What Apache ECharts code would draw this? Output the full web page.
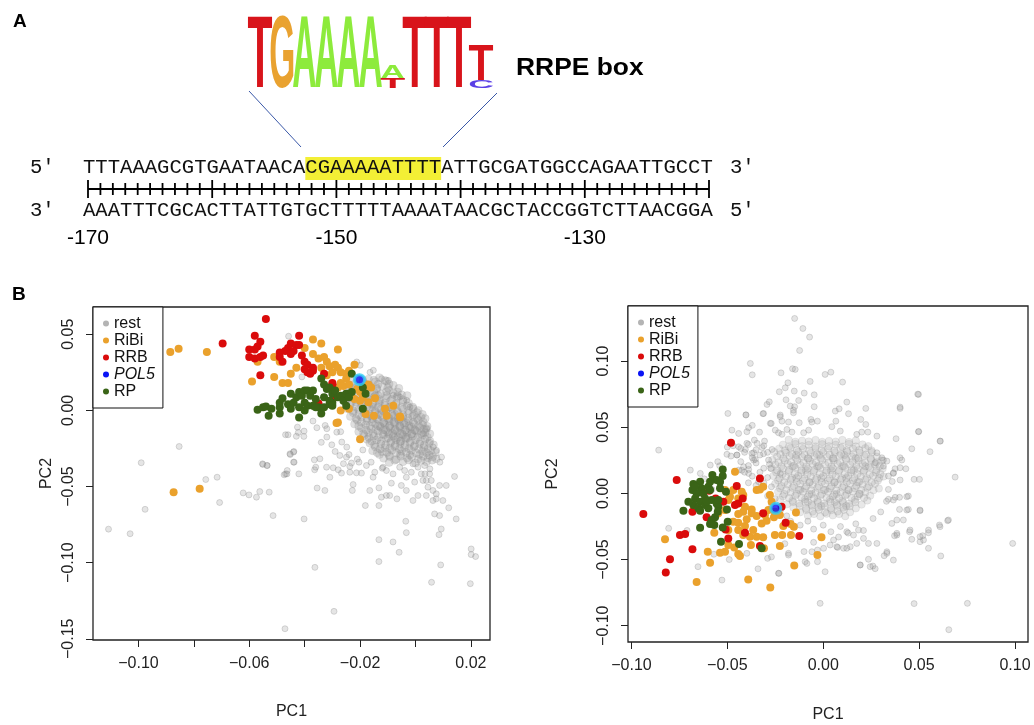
<!DOCTYPE html>
<html>
<head>
<meta charset="utf-8">
<script src="https://cdn.jsdelivr.net/npm/echarts@6/dist/echarts.min.js"></script>
<style>
html, body { margin: 0; padding: 0; background: #fff; }
#main { width: 1034px; height: 725px; }
</style>
</head>
<body>
<div id="main"></div>
<script>
/* panel A : promoter sequence with RRPE box */
const topStrand = 'TTTAAAGCGTGAATAACACGAAAAATTTTATTGCGATGGCCAGAATTGCCT';
const bottomStrand = 'AAATTTCGCACTTATTGTGCTTTTTAAAATAACGCTACCGGTCTTAACGGA';
const boxStart = 18, boxLength = 11;
const rulerStart = -170;
const rulerLabels = [-170, -150, -130];
// logo columns, letters from bottom to top with relative height
const logoColumns = [
    [['T', 1]], [['G', 1]], [['A', 1]], [['A', 1]], [['A', 1]], [['A', 1]],
    [['T', 0.14], ['A', 0.18]],
    [['T', 1]], [['T', 1]], [['T', 1]],
    [['C', 0.11], ['T', 0.49]]
];
const logoColors = {A: '#8DEB3C', C: '#5A3FE6', G: '#E9A230', T: '#D8141B'};

/* panel B : PCA, left and right */
const legendNames = ['rest', 'RiBi', 'RRB', 'POL5', 'RP'];
const xTicksLeft = [-0.10, -0.08, -0.06, -0.04, -0.02, 0.00, 0.02];
const xLabelsLeft = [-0.10, -0.06, -0.02, 0.02];
const yTicksLeft = [0.05, 0.00, -0.05, -0.10, -0.15];
const xTicksRight = [-0.10, -0.05, 0.00, 0.05, 0.10];
const yTicksRight = [0.10, 0.05, 0.00, -0.05, -0.10];

const leftRest = [
    [-0.0853,-0.0237],[-0.099,-0.0344],[-0.0976,-0.065],[-0.1108,-0.078],[-0.103,-0.081],[-0.0757,-0.0454],[-0.0716,-0.0439],
    [-0.0707,-0.0605],[-0.0622,-0.0542],[-0.0601,-0.0555],[-0.0574,-0.057],[-0.0562,-0.0533],[-0.0528,-0.0537],[-0.0514,-0.0691],
    [-0.0551,-0.0355],[-0.0535,-0.0362],[-0.0469,-0.016],[-0.0423,-0.0145],[-0.0403,-0.0171],[-0.0453,-0.0285],[-0.0439,-0.027],
    [-0.0438,-0.034],[-0.0469,-0.0417],[-0.0463,-0.0395],[-0.0421,-0.0417],[-0.0402,-0.0713],[-0.0363,-0.1031],[-0.0294,-0.132],
    [-0.0471,-0.1434],[-0.0365,-0.0325],[-0.0345,-0.0318],[-0.0364,-0.039],[-0.036,-0.0373],[-0.0355,-0.051],[-0.0327,-0.0526],
    [-0.0321,-0.0373],[-0.0297,-0.0377],[-0.0309,-0.0439],[-0.0279,-0.039],[-0.0267,-0.0412],[-0.0273,-0.0296],[-0.0249,-0.0307],
    [-0.0237,-0.0368],[-0.0231,-0.0346],[-0.0204,-0.034],[-0.0213,-0.041],[-0.0237,-0.0406],[-0.0225,-0.0487],[-0.0228,-0.0526],
    [-0.0195,-0.0412],[-0.0177,-0.0362],[-0.0165,-0.0526],[-0.0147,-0.0406],[-0.0153,-0.0439],[-0.0132,-0.0625],[-0.0181,-0.0625],
    [-0.0132,-0.0509],[-0.0123,-0.057],[-0.0105,-0.0559],[-0.0093,-0.0559],[-0.0067,-0.0581],[-0.0087,-0.0478],[-0.0117,-0.0373],
    [-0.0105,-0.0395],[-0.0081,-0.0417],[-0.0057,-0.0373],[-0.0039,-0.0395],[-0.0033,-0.0439],[-0.0015,-0.0406],[-0.0009,-0.0351],
    [0.0009,-0.0373],[0.0021,-0.0417],[0.0033,-0.0362],[0.0039,-0.046],[0.0045,-0.0504],[0.0057,-0.046],[0.0063,-0.0526],
    [0.0075,-0.0548],[0.0075,-0.0581],[0.0063,-0.0592],[0.0099,-0.0592],[0.0087,-0.0493],[0.0111,-0.0493],[0.0141,-0.0434],
    [0.012,-0.064],[0.0147,-0.0713],[0.0069,-0.068],[0.0087,-0.0691],[0.0093,-0.0779],[0.0085,-0.0816],[-0.0035,-0.0728],
    [-0.0033,-0.0803],[-0.0132,-0.0849],[-0.0081,-0.0864],[-0.0059,-0.0932],[-0.0132,-0.0993],[0.0091,-0.1015],[0.0058,-0.1129],
    [0.0198,-0.1138],[0.0201,-0.091],[0.0201,-0.0947],[0.0217,-0.096],[0.0039,-0.0559],[0.0009,-0.0559],[-0.0009,-0.0592],
    [-0.0033,-0.0526],[-0.0051,-0.0493],[0.0027,-0.046],[0.0051,-0.0417],[-0.0003,-0.0471],
    [-0.0426,-0.011],[-0.0402,-0.0136],[-0.0356,-0.0114],[-0.0326,-0.0099],[-0.032,-0.0175],[-0.0284,-0.0143],[-0.0302,-0.0226],
    [-0.0266,-0.0208],[-0.0248,-0.0241],[-0.044,-0.0274],[-0.0452,-0.029],[-0.0552,-0.0351],[-0.0536,-0.0362],[-0.0464,-0.0417],
    [-0.0474,-0.0423],[-0.044,-0.034],[-0.0164,0.025],[-0.0122,0.0208],[-0.0098,0.0197],[-0.008,0.0099],[-0.0056,0.0088],
    [-0.0032,0.0066],[-0.002,0.0022],[-0.020,0.0296],[-0.0152,0.0263],[-0.0212,0.0318],[-0.0458,0.0487],[-0.041,0.022],
    [-0.037,-0.007],[-0.046,-0.016],[-0.043,-0.017],[-0.027,-0.014],[-0.032,-0.012],[0.004,-0.0121],[0.0028,-0.0154],
    [0.0064,-0.0241],[0.0076,-0.0263],[0.0094,-0.0307],[0.0088,-0.034],[0.0052,-0.0384],[0.0034,-0.0417],[-0.034,-0.021],
    [-0.029,-0.027],[-0.024,-0.029],[-0.019,-0.026],[-0.021,-0.032],[-0.016,-0.034],[-0.012,-0.038],[-0.026,-0.035]
];
// dense core of the left cloud
const leftRestCore = [
    [-0.021,0.021],[-0.017,0.0205],[-0.013,0.0215],[-0.023,0.0185],[-0.019,0.019],[-0.0145,0.0188],[-0.0105,0.0192],
    [-0.024,0.016],[-0.0205,0.0155],[-0.0165,0.0162],[-0.012,0.0158],[-0.008,0.0165],[-0.0225,0.0135],[-0.018,0.013],
    [-0.014,0.0138],[-0.0095,0.0132],[-0.025,0.011],[-0.021,0.0105],[-0.0165,0.0112],[-0.0125,0.0108],[-0.008,0.0115],
    [-0.005,0.0102],[-0.0235,0.0085],[-0.019,0.008],[-0.015,0.0088],[-0.0105,0.0082],[-0.0065,0.0087],[-0.0255,0.006],
    [-0.0215,0.0055],[-0.0175,0.0062],[-0.013,0.0058],[-0.009,0.0063],[-0.0045,0.0056],[-0.0235,0.0035],[-0.0195,0.003],
    [-0.0155,0.0038],[-0.011,0.0032],[-0.007,0.0037],[-0.003,0.003],[-0.0245,0.001],[-0.0205,0.0005],[-0.0165,0.0012],
    [-0.0125,0.0008],[-0.0085,0.0013],[-0.0045,0.0006],[-0.0008,0.0011],[-0.0225,-0.0015],[-0.0185,-0.002],[-0.0145,-0.0012],
    [-0.0105,-0.0018],[-0.0065,-0.0013],[-0.0025,-0.002],[0.0005,-0.0014],[-0.0235,-0.004],[-0.0195,-0.0045],[-0.016,-0.0038],
    [-0.012,-0.0043],[-0.008,-0.0037],[-0.0045,-0.0044],[-0.001,-0.0039],[0.002,-0.0045],[-0.021,-0.0065],[-0.0175,-0.007],
    [-0.0135,-0.0062],[-0.0095,-0.0068],[-0.006,-0.0063],[-0.0025,-0.0069],[0.001,-0.0064],[-0.022,-0.009],[-0.018,-0.0095],
    [-0.0145,-0.0087],[-0.011,-0.0093],[-0.0075,-0.0088],[-0.004,-0.0094],[-0.0005,-0.0089],[0.0025,-0.0095],[-0.0195,-0.0115],
    [-0.016,-0.012],[-0.0125,-0.0112],[-0.009,-0.0118],[-0.0055,-0.0113],[-0.002,-0.0119],[0.0015,-0.0114],[0.004,-0.012],
    [-0.0205,-0.014],[-0.017,-0.0145],[-0.0135,-0.0137],[-0.01,-0.0143],[-0.0065,-0.0138],[-0.003,-0.0144],[0.0005,-0.0139],
    [0.0035,-0.0145],[-0.0185,-0.0165],[-0.015,-0.017],[-0.0115,-0.0162],[-0.008,-0.0168],[-0.0045,-0.0163],[-0.001,-0.0169],
    [0.0025,-0.0164],[-0.0175,-0.019],[-0.014,-0.0195],[-0.0105,-0.0187],[-0.007,-0.0193],[-0.0035,-0.0188],[0.0,-0.0194],
    [0.0035,-0.0189],[-0.0165,-0.0215],[-0.0125,-0.022],[-0.009,-0.0212],[-0.0055,-0.0218],[-0.002,-0.0213],[0.0015,-0.0219],
    [0.005,-0.0214],[-0.0145,-0.024],[-0.011,-0.0245],[-0.0075,-0.0237],[-0.004,-0.0243],[-0.0005,-0.0238],[0.003,-0.0244],
    [-0.0155,-0.0265],[-0.012,-0.027],[-0.0085,-0.0262],[-0.005,-0.0268],[-0.0015,-0.0263],[0.0025,-0.0269],[0.0055,-0.0264],
    [-0.013,-0.029],[-0.0095,-0.0295],[-0.0055,-0.0288],[-0.002,-0.0293],[0.0015,-0.0289],[0.005,-0.0294],[-0.0115,-0.0315],
    [-0.007,-0.0322],[-0.003,-0.0313],[0.001,-0.032],[0.0045,-0.0312],[0.0075,-0.0318],[-0.0095,-0.0342],[-0.0045,-0.0337],
    [0.0,-0.0345],[0.004,-0.0338],
    [-0.013,0.0045],[-0.0095,0.0022],[-0.0115,-0.0005],[-0.0075,-0.0025],[-0.0135,-0.0028],[-0.0095,-0.0052],[-0.0055,-0.0052],
    [-0.0115,-0.0078],[-0.0075,-0.0078],[-0.0035,-0.008],[-0.0135,-0.0102],[-0.0095,-0.0105],[-0.0055,-0.0103],[-0.0015,-0.0107],
    [-0.0115,-0.0128],[-0.0075,-0.013],[-0.0035,-0.0128],[0.0,-0.0132],[-0.0095,-0.0155],[-0.0055,-0.0152],[-0.0015,-0.0157],
    [-0.0075,-0.018],[-0.0035,-0.0178],[-0.0055,-0.0203],[-0.0155,0.0022],[-0.0175,-0.0025],[-0.0155,-0.0055],[-0.0175,0.0075],
    [-0.0135,0.0098],[-0.0185,0.0122]
];
const leftRestCore2 = [
    [-0.019,0.0198],[-0.015,0.0199],[-0.011,0.0197],[-0.022,0.0172],[-0.018,0.0174],[-0.0135,0.0171],[-0.0095,0.0173],
    [-0.0225,0.0147],[-0.0185,0.0149],[-0.014,0.0146],[-0.010,0.0148],[-0.006,0.0145],[-0.0235,0.0122],[-0.0195,0.0124],
    [-0.015,0.0121],[-0.0105,0.0123],[-0.0065,0.0121],[-0.023,0.0097],[-0.019,0.0099],[-0.0145,0.0096],[-0.0105,0.0098],
    [-0.0065,0.0095],[-0.003,0.0097],[-0.0215,0.0072],[-0.017,0.0074],[-0.013,0.0071],[-0.0085,0.0073],[-0.0045,0.007],
    [-0.0235,0.0047],[-0.0195,0.0049],[-0.0155,0.0046],[-0.011,0.0048],[-0.007,0.0045],[-0.0025,0.0047],[-0.0215,0.0022],
    [-0.0175,0.0024],[-0.0135,0.0021],[-0.009,0.0023],[-0.005,0.002],[-0.001,0.0022],[-0.0225,-0.0003],[-0.0185,-0.0001],
    [-0.0145,-0.0004],[-0.0105,-0.0002],[-0.0065,-0.0005],[-0.0025,-0.0003],[0.001,-0.0001],[-0.0205,-0.0028],[-0.0165,-0.0026],
    [-0.0125,-0.0029],[-0.0085,-0.0027],[-0.0045,-0.003],[-0.0005,-0.0028],[0.0025,-0.0026],[-0.0215,-0.0053],[-0.0175,-0.0051],
    [-0.014,-0.0054],[-0.010,-0.0052],[-0.0063,-0.0055],[-0.0028,-0.0053],[0.0005,-0.0051],[0.0035,-0.0054],[-0.0195,-0.0078],
    [-0.0155,-0.0076],[-0.0115,-0.0079],[-0.0078,-0.0077],[-0.0043,-0.008],[-0.0008,-0.0078],[0.0028,-0.0076],[-0.0205,-0.0103],
    [-0.0165,-0.0101],[-0.0128,-0.0104],[-0.0093,-0.0102],[-0.0058,-0.0105],[-0.0023,-0.0103],[0.0012,-0.0101],[0.0042,-0.0104],
    [-0.0178,-0.0128],[-0.0143,-0.0126],[-0.0108,-0.0129],[-0.0073,-0.0127],[-0.0038,-0.013],[-0.0003,-0.0128],[0.003,-0.0126],
    [-0.0188,-0.0153],[-0.0153,-0.0151],[-0.0118,-0.0154],[-0.0083,-0.0152],[-0.0048,-0.0155],[-0.0013,-0.0153],[0.002,-0.0151],
    [0.0052,-0.0154],[-0.0168,-0.0178],[-0.0133,-0.0176],[-0.0098,-0.0179],[-0.0063,-0.0177],[-0.0028,-0.018],[0.0008,-0.0178],
    [0.0043,-0.0176],[-0.0158,-0.0203],[-0.0123,-0.0201],[-0.0088,-0.0204],[-0.0053,-0.0202],[-0.0018,-0.0205],[0.0018,-0.0203],
    [0.0052,-0.0201],[-0.0148,-0.0228],[-0.0108,-0.0226],[-0.0073,-0.0229],[-0.0038,-0.0227],[-0.0003,-0.023],[0.0032,-0.0228],
    [0.0065,-0.0226],[-0.0128,-0.0253],[-0.0093,-0.0251],[-0.0058,-0.0254],[-0.0023,-0.0252],[0.0012,-0.0255],[0.0045,-0.0253],
    [-0.0138,-0.0278],[-0.0103,-0.0276],[-0.0068,-0.0279],[-0.0033,-0.0277],[0.0003,-0.028],[0.004,-0.0278],[0.0072,-0.0276],
    [-0.0093,-0.0303],[-0.0053,-0.0301],[-0.0013,-0.0304],[0.0028,-0.0302],[0.0062,-0.0305],[-0.0075,-0.0328],[-0.0025,-0.0326],
    [0.002,-0.0329],[0.006,-0.0327]
];
const leftRibi = [
    [-0.0885,0.0384],[-0.0855,0.0404],[-0.0753,0.0384],[-0.0873,-0.0537],[-0.0779,-0.0515],[-0.020,-0.019],[-0.0285,-0.0083],
    [-0.037,0.0465],[-0.034,0.044],[-0.028,0.040],[-0.037,0.037],[-0.035,0.034],[-0.033,0.035],[-0.032,0.032],[-0.034,0.028],
    [-0.031,0.029],[-0.029,0.030],[-0.028,0.028],[-0.030,0.025],[-0.032,0.023],[-0.027,0.025],[-0.025,0.024],[-0.024,0.026],
    [-0.022,0.030],[-0.025,0.021],[-0.027,0.018],[-0.028,0.015],[-0.026,0.016],[-0.024,0.017],[-0.021,0.014],[-0.018,0.016],
    [-0.017,0.017],[-0.016,0.015],[-0.020,0.012],[-0.019,0.0086],[-0.022,0.0075],[-0.020,0.0064],[-0.017,0.0053],[-0.0146,0.008],
    [-0.008,0.003],[-0.0104,-0.0035],[-0.0056,-0.004],[-0.015,-0.0035],[-0.018,-0.0024],[-0.024,0.001],[-0.027,0.000],
    [-0.028,-0.008],[-0.051,0.035],[-0.049,0.032],[-0.051,0.022],[-0.048,0.018],[-0.045,0.024],[-0.043,0.028],[-0.046,0.018],
    [-0.059,0.019],[-0.057,0.032],[-0.040,0.041],[-0.011,0.001],[-0.0055,-0.0045]
];
const leftRrb = [
    [-0.054,0.060],[-0.058,0.049],[-0.056,0.045],[-0.057,0.042],[-0.060,0.040],[-0.058,0.040],[-0.060,0.035],[-0.058,0.034],
    [-0.056,0.035],[-0.055,0.036],[-0.056,0.023],[-0.042,0.049],[-0.045,0.044],[-0.043,0.043],[-0.046,0.041],[-0.047,0.039],
    [-0.044,0.039],[-0.042,0.043],[-0.049,0.038],[-0.049,0.035],[-0.048,0.032],[-0.045,0.037],[-0.041,0.036],[-0.040,0.032],
    [-0.039,0.030],[-0.040,0.027],[-0.037,0.028],[-0.037,0.026],[-0.038,0.024],[-0.039,0.025],[-0.033,0.024],[-0.030,0.017],
    [-0.036,0.004],[-0.030,0.018],[-0.035,0.0045],[-0.030,0.007],[-0.0696,0.0439]
];
const leftRp = [
    [-0.057,0.0004],[-0.055,0.002],[-0.054,0.0026],[-0.052,0.001],[-0.053,-0.0035],[-0.049,-0.002],[-0.049,0.002],[-0.049,0.005],
    [-0.048,0.008],[-0.046,0.004],[-0.045,0.011],[-0.043,0.0086],[-0.042,0.012],[-0.041,0.0096],[-0.040,0.013],[-0.039,0.013],
    [-0.038,0.0096],[-0.037,0.013],[-0.036,0.0075],[-0.040,0.005],[-0.042,0.002],[-0.039,0.003],[-0.037,0.003],[-0.035,0.002],
    [-0.034,-0.002],[-0.033,0.002],[-0.031,0.004],[-0.030,0.005],[-0.034,0.021],[-0.033,0.017],[-0.032,0.014],[-0.031,0.015],
    [-0.030,0.011],[-0.029,0.013],[-0.028,0.0086],[-0.027,0.0096],[-0.026,0.0064],[-0.025,0.011],[-0.023,0.012],[-0.025,0.003],
    [-0.042,-0.0046],[-0.019,0.001],[-0.023,0.024],[-0.019,0.015],[-0.018,0.011],[-0.045,0.001],[-0.044,0.005],[-0.040,0.000],
    [-0.036,0.002],[-0.033,0.0086],[-0.031,0.0064],[-0.024,0.0086],[-0.030,0.003]
];
const leftPol5 = [[-0.0202, 0.0202]];

const rightRest = [
    [-0.0149,0.1322],[-0.0106,0.1246],[-0.0071,0.1181],[-0.0123,0.108],[-0.038,0.0982],[-0.037,0.0896],[-0.022,0.0911],
    [-0.016,0.0942],[-0.0146,0.0937],[0.001,0.0899],[0.004,0.0916],[-0.0184,0.0836],[-0.0068,0.0846],[0.0101,0.0841],
    [-0.0198,0.0798],[-0.0229,0.0768],[-0.0151,0.0773],[-0.0099,0.0758],[-0.0047,0.0745],[0.0493,0.075],[-0.0293,0.0672],
    [-0.0281,0.0692],[-0.0194,0.0707],[-0.0128,0.0702],[-0.0172,0.066],[-0.0149,0.0655],[-0.0047,0.0655],[0.0123,0.069],
    [0.0063,0.0622],[0.0083,0.0639],[-0.0155,0.0609],[-0.0314,0.0602],[-0.0403,0.0594],[-0.0224,0.0592],[0.0132,0.0602],
    [0.0222,0.0642],[0.0401,0.0652],[-0.0276,0.0529],[-0.037,0.0514],[-0.0389,0.0496],[-0.0215,0.0546],[-0.0181,0.0539],
    [-0.0125,0.0534],[-0.0064,0.0559],[-0.0059,0.0539],[-0.003,0.0546],[0.0066,0.0546],[0.0045,0.0504],[0.0196,0.0559],
    [0.0222,0.0521],[0.0089,0.0471],[-0.0332,0.0463],[-0.025,0.0478],[-0.0233,0.0458],[-0.0215,0.0446],[-0.0189,0.0483],
    [-0.0163,0.0463],[-0.0102,0.0458],[-0.0076,0.0478],[0.0175,0.0446],[0.0201,0.0463],[0.0233,0.0463],[0.028,0.0433],
    [0.0498,0.0468],[0.0611,0.0395],[0.038,0.0413],[0.0557,0.0315],[0.0462,0.0337],[0.0401,0.0269],[0.041,0.0252],
    [0.0431,0.0186],[0.0375,0.0186],[0.0401,0.0194],[0.0474,0.0106],[0.0502,0.0106],[0.0688,0.0123],[-0.0345,0.0378],
    [-0.0306,0.0395],[-0.0363,0.0307],[-0.0311,0.03],[-0.0354,0.0257],[-0.0406,0.0332],[-0.0424,0.0174],[-0.0389,0.0181],
    [0.028,0.0307],[0.0306,0.0269],[0.0314,0.0206],[0.0271,0.0232],[0.0332,0.0244],[0.0366,0.0156],[0.034,0.0131],
    [0.0444,-0.002],[0.0375,-0.003],[0.0398,-0.003],[0.034,-0.0045],[0.0505,-0.0131],[0.0444,-0.0121],[0.0398,-0.0121],
    [0.0418,-0.0201],[0.0384,-0.0201],[0.0358,-0.0227],[0.0649,-0.0206],[0.0606,-0.0239],[0.045,-0.029],[0.0384,-0.0315],
    [0.0372,-0.032],[0.0519,-0.032],[0.0549,-0.0297],[0.0523,-0.0352],[0.0505,-0.0365],[0.0462,-0.0347],[0.0549,-0.0415],
    [0.0613,-0.0473],[0.0988,-0.0378],[0.0332,-0.0441],[0.0318,-0.0471],[0.0366,-0.0504],[0.028,-0.0378],[0.0236,-0.0498],
    [0.0259,-0.0549],[0.0271,-0.0569],[0.0193,-0.0541],[0.001,-0.0592],[-0.0016,-0.0831],[0.0474,-0.0833],[0.0752,-0.0831],
    [0.0655,-0.103],[0.0141,-0.0403],[0.0106,-0.0415],[0.0075,-0.0408],[0.0036,-0.039],[0.0002,-0.0415],[-0.003,-0.0428],
    [-0.0059,-0.0441],[-0.003,-0.0516],[-0.0094,-0.0516],[-0.0233,-0.0604],[-0.0181,-0.0453],[-0.029,-0.0491],[0.0175,-0.0378],
    [0.0236,-0.0378],[0.021,-0.034],[0.0158,-0.0315],[0.0184,-0.0277],[0.0123,-0.029],
    [-0.0589,0.0214],[-0.054,0.0209],[-0.0641,0.0151],[-0.0497,0.0604],[-0.0403,0.0592],[-0.0311,0.0604],[-0.0271,0.0529],
    [-0.0224,0.0579],[-0.0155,0.0629],[-0.0476,0.0478],[-0.0441,0.0453],[-0.0398,0.0466],[-0.0359,0.0403],[-0.0398,0.0378],
    [-0.0502,0.0295],[-0.0481,0.0282],[-0.045,0.029],[-0.0441,0.0352],[-0.0372,0.0302],[-0.0319,0.0347],[-0.0267,0.0332],
    [-0.0285,0.0252],[-0.0363,0.0252],[-0.0415,0.0201],[-0.0441,0.0176],[-0.0389,0.0151],[-0.0337,0.0088],[-0.0273,0.0189],
    [-0.0224,0.0151],[0.0314,0.0252],[0.0366,0.0151],[0.0401,0.0101],[0.0436,-0.0025],[0.0366,-0.005],[0.0436,-0.0126],
    [0.0505,-0.0126],[0.0384,-0.0302],[0.0453,-0.0277],[0.0505,-0.0327],[0.0609,-0.0252],[0.0653,-0.0201],[0.0549,-0.0277],
    [0.0332,-0.0453],[0.0245,-0.0554],[0.0193,-0.0541],[0.0123,-0.0415],[0.0071,-0.0403],[0.0054,-0.0352],[0.0497,0.0466],
    [0.0609,0.0395],[0.0401,0.0642],[0.0497,0.0748],[-0.0858,0.0327],[-0.0806,-0.0264],[-0.0693,0.0176],[-0.0653,-0.0554],
    [-0.0528,-0.0655],[-0.0231,-0.0604],[-0.0181,-0.0466],[-0.0085,-0.0529],[-0.0398,-0.0453],
    [-0.047,0.036],[-0.043,0.034],[-0.039,0.037],[-0.035,0.033],[-0.031,0.036],[-0.045,0.029],[-0.041,0.031],[-0.037,0.027],
    [-0.033,0.029],[-0.029,0.031],[-0.043,0.024],[-0.039,0.021],[-0.035,0.023],[-0.031,0.019],[-0.028,0.022],[-0.041,0.016],
    [-0.037,0.013],[-0.033,0.016],[-0.029,0.012],[-0.039,0.008],[-0.035,0.006],[-0.031,0.008],[-0.027,0.005],[-0.029,-0.002],
    [-0.025,-0.004],[-0.027,-0.008],[-0.022,-0.012],[-0.019,-0.017],[-0.017,-0.021],[-0.012,-0.024],[-0.008,-0.021],
    [-0.005,-0.027],[0.0,-0.024],[0.004,-0.029],[0.009,-0.025],[0.013,-0.03],[0.017,-0.023],[0.021,-0.028],[0.026,-0.019],
    [0.03,-0.014],[0.033,-0.006],[0.034,0.003],[0.036,0.009],[-0.058,0.003],[-0.062,0.011],[-0.055,0.024],[-0.05,0.035],
    [-0.071,-0.028],[-0.057,-0.046],[-0.049,-0.05],[-0.034,-0.057],[-0.027,-0.048],[-0.02,-0.038],[-0.01,-0.044],
    [-0.005,-0.037],[0.008,-0.033]
];
// dense core of the right cloud
const rightRestCore = [
    [-0.018,0.0405],[-0.011,0.0398],[-0.004,0.0403],[0.003,0.0396],[0.010,0.0404],[0.017,0.0399],
    [-0.021,0.0368],[-0.0145,0.0373],[-0.0075,0.0366],[-0.0005,0.0372],[0.0065,0.0367],[0.0135,0.0374],[0.0205,0.0369],
    [-0.023,0.0338],[-0.017,0.0343],[-0.0105,0.0336],[-0.004,0.0342],[0.0025,0.0337],[0.009,0.0344],[0.0155,0.0339],[0.022,0.0342],
    [-0.0255,0.0312],[-0.0195,0.0307],[-0.013,0.0313],[-0.0065,0.0306],[0.0,0.0312],[0.006,0.0308],[0.0125,0.0314],[0.019,0.0307],
    [0.0255,0.0311],[-0.024,0.0278],[-0.0175,0.0283],[-0.011,0.0276],[-0.0045,0.0282],[0.002,0.0277],[0.0085,0.0284],[0.015,0.0278],
    [0.0215,0.0283],[0.028,0.0277],[-0.0265,0.0252],[-0.02,0.0247],[-0.0135,0.0253],[-0.007,0.0246],[-0.0005,0.0252],[0.0055,0.0248],
    [0.012,0.0254],[0.0185,0.0247],[0.025,0.0253],[0.0305,0.0248],[-0.025,0.0218],[-0.0185,0.0223],[-0.012,0.0216],[-0.0055,0.0222],
    [0.001,0.0217],[0.0075,0.0224],[0.014,0.0218],[0.0205,0.0223],[0.027,0.0217],[-0.027,0.0192],[-0.021,0.0187],[-0.0145,0.0193],
    [-0.008,0.0186],[-0.0015,0.0192],[0.005,0.0188],[0.0115,0.0194],[0.018,0.0187],[0.0245,0.0193],[0.031,0.0188],[-0.0245,0.0158],
    [-0.018,0.0163],[-0.0115,0.0156],[-0.005,0.0162],[0.0015,0.0157],[0.008,0.0164],[0.0145,0.0158],[0.021,0.0163],[0.0275,0.0157],
    [-0.026,0.0132],[-0.0195,0.0127],[-0.013,0.0133],[-0.0065,0.0126],[0.0,0.0132],[0.0065,0.0128],[0.013,0.0134],[0.0195,0.0127],
    [0.026,0.0133],[0.0315,0.0128],[-0.0235,0.0098],[-0.017,0.0103],[-0.0105,0.0096],[-0.004,0.0102],[0.0025,0.0097],[0.009,0.0104],
    [0.0155,0.0098],[0.022,0.0103],[0.0285,0.0097],[-0.025,0.0072],[-0.0185,0.0067],[-0.012,0.0073],[-0.0055,0.0066],[0.001,0.0072],
    [0.0075,0.0068],[0.014,0.0074],[0.0205,0.0067],[0.027,0.0073],[-0.0225,0.0038],[-0.016,0.0043],[-0.0095,0.0036],[-0.003,0.0042],
    [0.0035,0.0037],[0.01,0.0044],[0.0165,0.0038],[0.023,0.0043],[0.029,0.0037],[-0.0235,0.0012],[-0.017,0.0007],[-0.0105,0.0013],
    [-0.004,0.0006],[0.0025,0.0012],[0.009,0.0008],[0.0155,0.0014],[0.022,0.0007],[-0.021,-0.0022],[-0.0145,-0.0017],[-0.008,-0.0024],
    [-0.0015,-0.0018],[0.005,-0.0023],[0.0115,-0.0016],[0.018,-0.0022],[0.0245,-0.0017],[-0.0225,-0.0048],[-0.016,-0.0053],
    [-0.0095,-0.0046],[-0.003,-0.0052],[0.0035,-0.0047],[0.01,-0.0054],[0.0165,-0.0048],[0.023,-0.0053],[-0.019,-0.0082],
    [-0.0125,-0.0077],[-0.006,-0.0083],[0.0005,-0.0076],[0.007,-0.0082],[0.0135,-0.0078],[0.02,-0.0084],[-0.0155,-0.0108],
    [-0.009,-0.0113],[-0.0025,-0.0106],[0.004,-0.0112],[0.0105,-0.0107],[0.017,-0.0113],[-0.012,-0.0142],[-0.0055,-0.0137],
    [0.001,-0.0143],[0.0075,-0.0136],[0.014,-0.0142],[-0.008,-0.0168],[-0.0015,-0.0173],[0.005,-0.0166],[0.0115,-0.0172],
    [-0.014,0.029],[-0.008,0.0265],[-0.002,0.029],[0.005,0.0265],[0.011,0.029],[0.017,0.0265],[-0.016,0.0205],[-0.009,0.0175],
    [-0.003,0.0205],[0.004,0.0175],[0.01,0.0205],[0.016,0.0175],[0.022,0.0205],[-0.014,0.0115],[-0.007,0.0085],[-0.001,0.0115],
    [0.006,0.0085],[0.012,0.0115],[0.018,0.0085],[-0.012,0.0025],[-0.006,-0.0005],[0.001,0.0025],[0.007,-0.0005],[0.013,0.0025],
    [0.019,-0.0005],[-0.008,-0.0065],[-0.001,-0.0095],[0.006,-0.0065],[0.012,-0.0095]
];
const rightRestCore2 = [
    [-0.0145,0.039],[-0.0075,0.0392],[-0.0005,0.0389],[0.0065,0.0391],[0.0135,0.0388],
    [-0.0178,0.0355],[-0.011,0.0357],[-0.004,0.0354],[0.003,0.0356],[0.010,0.0353],[0.017,0.0355],[0.0235,0.0357],
    [-0.02,0.0325],[-0.0138,0.0327],[-0.0073,0.0324],[-0.0008,0.0326],[0.0058,0.0323],[0.0123,0.0325],[0.0188,0.0327],[0.0252,0.0324],
    [-0.0223,0.0295],[-0.0163,0.0297],[-0.0098,0.0294],[-0.0033,0.0296],[0.0033,0.0293],[0.0093,0.0295],[0.0158,0.0297],[0.0223,0.0294],
    [-0.0208,0.0265],[-0.0143,0.0267],[-0.0078,0.0264],[-0.0013,0.0266],[0.0053,0.0263],[0.0118,0.0265],[0.0183,0.0267],[0.0248,0.0264],
    [-0.0233,0.0235],[-0.0168,0.0237],[-0.0103,0.0234],[-0.0038,0.0236],[0.0028,0.0233],[0.0088,0.0235],[0.0153,0.0237],[0.0218,0.0234],
    [0.0278,0.0236],[-0.0218,0.0205],[-0.0153,0.0207],[-0.0088,0.0204],[-0.0023,0.0206],[0.0043,0.0203],[0.0108,0.0205],[0.0173,0.0207],
    [0.0238,0.0204],[0.0295,0.0206],[-0.024,0.0175],[-0.0178,0.0177],[-0.0113,0.0174],[-0.0048,0.0176],[0.0018,0.0173],[0.0083,0.0175],
    [0.0148,0.0177],[0.0213,0.0174],[0.0278,0.0176],[-0.0213,0.0145],[-0.0148,0.0147],[-0.0083,0.0144],[-0.0018,0.0146],[0.0048,0.0143],
    [0.0113,0.0145],[0.0178,0.0147],[0.0243,0.0144],[0.0298,0.0146],[-0.0228,0.0115],[-0.0163,0.0117],[-0.0098,0.0114],[-0.0033,0.0116],
    [0.0033,0.0113],[0.0098,0.0115],[0.0163,0.0117],[0.0228,0.0114],[0.0292,0.0116],[-0.0203,0.0085],[-0.0138,0.0087],[-0.0073,0.0084],
    [-0.0008,0.0086],[0.0058,0.0083],[0.0123,0.0085],[0.0188,0.0087],[0.0253,0.0084],[-0.0218,0.0055],[-0.0153,0.0057],[-0.0088,0.0054],
    [-0.0023,0.0056],[0.0043,0.0053],[0.0108,0.0055],[0.0173,0.0057],[0.0238,0.0054],[-0.0193,0.0025],[-0.0128,0.0027],[-0.0063,0.0024],
    [0.0003,0.0026],[0.0068,0.0023],[0.0133,0.0025],[0.0198,0.0027],[0.0262,0.0024],[-0.0203,-0.0005],[-0.0138,-0.0003],[-0.0073,-0.0006],
    [-0.0008,-0.0004],[0.0058,-0.0007],[0.0123,-0.0005],[0.0188,-0.0003],[-0.0178,-0.0035],[-0.0113,-0.0033],[-0.0048,-0.0036],
    [0.0018,-0.0034],[0.0083,-0.0037],[0.0148,-0.0035],[0.0213,-0.0033],[-0.0158,-0.0065],[-0.0093,-0.0063],[-0.0028,-0.0066],
    [0.0038,-0.0064],[0.0103,-0.0067],[0.0168,-0.0065],[-0.0123,-0.0095],[-0.0058,-0.0093],[0.0008,-0.0096],[0.0073,-0.0094],
    [0.0138,-0.0097],[-0.0088,-0.0125],[-0.0023,-0.0123],[0.0043,-0.0126],[0.0108,-0.0124],[-0.0048,-0.0155],[0.0018,-0.0153],
    [0.0083,-0.0156]
];
const rightRibi = [
    [-0.046,0.0164],[-0.0512,0.0025],[-0.0469,0.0025],[-0.0486,-0.0025],[-0.0495,-0.005],[-0.0417,-0.0013],[-0.0425,0.0013],
    [-0.0443,-0.0038],[-0.0408,-0.0101],[-0.0373,-0.0121],[-0.0347,0.0025],[-0.033,0.003],[-0.0313,0.005],[-0.0278,-0.0013],
    [-0.0269,-0.0063],[-0.0252,-0.0138],[-0.0286,-0.0126],[-0.0304,-0.0164],[-0.0347,-0.0171],[-0.0373,-0.0151],[-0.0417,-0.0138],
    [-0.0443,-0.0156],[-0.0469,-0.0214],[-0.0443,-0.0222],[-0.0399,-0.0196],[-0.0443,-0.0277],[-0.0417,-0.0315],[-0.0382,-0.0327],
    [-0.0347,-0.0327],[-0.0365,-0.0277],[-0.0321,-0.0227],[-0.0295,-0.0206],[-0.0257,-0.0181],[-0.0226,-0.0164],[-0.0208,-0.0247],
    [-0.017,-0.0232],[-0.0153,-0.0252],[-0.0142,-0.0144],[-0.0252,-0.0315],[-0.0214,-0.0315],[-0.0168,-0.0315],[-0.0313,-0.0332],
    [-0.0226,-0.0398],[-0.0309,-0.0415],[-0.0495,-0.039],[-0.0512,-0.0441],[-0.0538,-0.0448],[-0.0602,-0.0441],[-0.0443,-0.0458],
    [-0.0434,-0.0473],[-0.059,-0.0524],[-0.066,-0.067],[-0.0391,-0.065],[-0.0276,-0.0712],[-0.0151,-0.0544],[-0.003,-0.0466],
    [-0.0009,-0.0332],[-0.0825,-0.0347],[-0.0568,-0.0297],[-0.0495,-0.0277],[-0.0408,-0.0247],[-0.0377,-0.039],[-0.0464,-0.0408],
    [-0.0547,-0.0151],[-0.0512,-0.0126]
];
const rightRrb = [
    [-0.0481,0.0383],[-0.0764,0.0101],[-0.0938,-0.0156],[-0.0682,-0.0138],[-0.0595,0.002],[-0.0608,-0.0181],[-0.0521,-0.0063],
    [-0.0561,-0.0038],[-0.0451,0.0055],[-0.046,-0.0088],[-0.042,-0.0038],[-0.0443,-0.0076],[-0.033,0.0113],[-0.0313,-0.0151],
    [-0.0196,-0.0222],[-0.0125,-0.0322],[-0.0408,-0.0297],[-0.0495,-0.034],[-0.0509,-0.0272],[-0.0747,-0.0315],[-0.072,-0.0307],
    [-0.0682,-0.0423],[-0.0799,-0.0498],[-0.0821,-0.0597],[-0.033,-0.0398],[-0.0217,-0.0101]
];
const rightRp = [
    [-0.0524,0.0181],[-0.0524,0.0131],[-0.0578,0.0138],[-0.0556,0.0101],[-0.059,0.0088],[-0.0538,0.0088],[-0.0677,0.007],
    [-0.0642,0.0088],[-0.0682,0.0025],[-0.0634,0.0038],[-0.066,0.0],[-0.0625,0.0],[-0.0599,0.005],[-0.059,0.0025],
    [-0.0668,-0.0038],[-0.0616,-0.0038],[-0.0642,-0.0063],[-0.0582,-0.005],[-0.0556,-0.0076],[-0.0547,-0.0101],[-0.0677,-0.0088],
    [-0.0651,-0.0113],[-0.0616,-0.0088],[-0.0599,-0.0113],[-0.0507,0.0013],[-0.0502,-0.0121],[-0.0729,-0.0131],[-0.0642,-0.0131],
    [-0.055,-0.0138],[-0.0564,-0.0181],[-0.0582,-0.0201],[-0.059,-0.0232],[-0.0568,-0.0239],[-0.0498,-0.0214],[-0.0524,-0.0257],
    [-0.0642,-0.0259],[-0.0533,-0.0365],[-0.0439,-0.0383],[-0.0321,-0.0415],[-0.0547,-0.005],[-0.0608,-0.0063],[-0.0703,-0.0063],
    [-0.0668,0.005],[-0.0538,0.0038]
];
const rightPol5 = [[-0.0247, -0.0113]];

const colors = {rest: 'rgba(150,150,150,0.30)', RiBi: '#EAA12C', RRB: '#DA0B0B', POL5: '#0A14F5', RP: '#3A6417'};

function fmt(v){
    return v.toFixed(2).replace('-', '\u2212');
}

function scatterSeries(name, data, idx){
    let s = {
        type: 'scatter', name: name, data: data, xAxisIndex: idx, yAxisIndex: idx,
        symbol: 'circle', symbolSize: 8, silent: true, animation: false,
        itemStyle: {color: colors[name], opacity: 1}
    };
    if(name == 'rest'){
        s.symbolSize = 6;
        s.itemStyle = {color: colors.rest, borderColor: 'rgba(125,125,125,0.42)', borderWidth: 0.8};
        s.z = 1;
    }
    if(name == 'POL5'){
        s.symbolSize = 10;
        s.itemStyle = {color: colors.POL5, borderColor: '#2FD0F5', borderWidth: 3};
        s.z = 5;
    }
    if(name == 'RP'){ s.z = 4; }
    if(name == 'RRB'){ s.z = 3; }
    if(name == 'RiBi'){ s.z = 2; }
    return s;
}

// the heavily overplotted centre of a cloud
function coreSeries(data, idx, size, alpha){
    let s = scatterSeries('rest', data, idx);
    s.symbolSize = size;
    s.itemStyle = {color: 'rgba(150,150,150,' + alpha + ')', borderColor: 'rgba(125,125,125,0.25)', borderWidth: 0.6};
    return s;
}

// every tick carries a label slot, the ones R dropped are left empty
function axisSet(ticks, labels, rotate){
    const shown = v => labels.some(l => Math.abs(l - v) < 1e-9);
    return {
        axisLine: {show: false, onZero: false},
        splitLine: {show: false},
        axisTick: {show: true, inside: false, length: 7, customValues: ticks, lineStyle: {color: '#222', width: 1}},
        axisLabel: {
            customValues: ticks, formatter: v => shown(v) ? fmt(v) : '', rotate: rotate, margin: 16, inside: false,
            color: '#222', fontSize: 16, fontFamily: 'Liberation Sans'
        }
    };
}

function legendBox(left, top){
    return {
        left: left, top: top, orient: 'vertical', selectedMode: false,
        backgroundColor: '#fff', borderColor: '#111', borderWidth: 1,
        padding: [8, 8, 8, 10], itemGap: 0, itemWidth: 6, itemHeight: 6, icon: 'circle',
        textStyle: {fontSize: 16, lineHeight: 17, color: '#111', fontFamily: 'Liberation Sans',
            rich: {it: {fontStyle: 'italic', fontSize: 16, lineHeight: 17, fontFamily: 'Liberation Sans'}}},
        formatter: n => n == 'POL5' ? '{it|POL5}' : n,
        data: legendNames.map(n => ({
            name: n,
            itemStyle: {color: n == 'rest' ? '#b4b4b4' : colors[n], borderWidth: 0, opacity: 1}
        })),
        z: 10
    };
}

/* panel A graphics */
let graphics = [];
const txtFont = (w, s, f) => w + ' ' + s + 'px "' + f + '"';
function addText(text, x, y, font, fill, align, extra){
    graphics.push(Object.assign({
        type: 'text', x: x, y: y, silent: true,
        style: {text: text, font: font, fill: fill, align: align, textAlign: align,
            verticalAlign: 'middle', textVerticalAlign: 'middle'}
    }, extra || {}));
}

addText('A', 13, 22, txtFont('bold', 19, 'Liberation Sans'), '#000', 'left');
addText('B', 12, 295, txtFont('bold', 19, 'Liberation Sans'), '#000', 'left');

// sequence logo
const logoLeft = 249, logoBottom = 88, logoHeight = 71, colWidth = 22.1;
const inkWidth = {A: 66, C: 62, G: 66, T: 54};
logoColumns.forEach((col, i) => {
    let base = logoBottom;
    col.forEach(([letter, frac]) => {
        const h = frac * logoHeight;
        addText(letter, logoLeft + (i + 0.5) * colWidth, base - h / 2 + 0.09 * h,
            txtFont('bold', 100, 'Liberation Sans'), logoColors[letter], 'center',
            {scaleX: colWidth / inkWidth[letter], scaleY: h / 70});
        base -= h;
    });
});
addText('RRPE box', 516, 68, txtFont('bold', 24, 'Liberation Sans'), '#000', 'left', {scaleX: 1.1});

const seqLeft = 83, charW = 12.35, seqFont = txtFont('normal', (charW / 0.6).toFixed(2), 'Liberation Mono');
graphics.push({type: 'line', silent: true, shape: {x1: 249, y1: 91, x2: 301, y2: 147}, style: {stroke: '#3A58A8', lineWidth: 1}});
graphics.push({type: 'line', silent: true, shape: {x1: 497, y1: 93, x2: 443, y2: 147}, style: {stroke: '#3A58A8', lineWidth: 1}});
graphics.push({type: 'rect', silent: true, shape: {x: seqLeft + boxStart * charW, y: 157, width: boxLength * charW, height: 23},
    style: {fill: '#F3EF35'}});
addText('5\u2032', 30, 168, seqFont, '#111', 'left');
addText(topStrand, seqLeft, 168, seqFont, '#111', 'left');
addText('3\u2032', 730, 168, seqFont, '#111', 'left');
addText('3\u2032', 30, 211, seqFont, '#111', 'left');
addText(bottomStrand, seqLeft, 211, seqFont, '#111', 'left');
addText('5\u2032', 730, 211, seqFont, '#111', 'left');

// ruler, one tick per base
const rulerX0 = 88, rulerStep = 12.42, rulerY = 189;
graphics.push({type: 'line', silent: true, shape: {x1: rulerX0, y1: rulerY, x2: rulerX0 + (topStrand.length - 1) * rulerStep, y2: rulerY},
    style: {stroke: '#000', lineWidth: 2.2}});
for(let i = 0; i < topStrand.length; i++){
    const major = (rulerStart + i) % 10 == 0;
    const half = major ? 9 : 6;
    const x = rulerX0 + i * rulerStep;
    graphics.push({type: 'line', silent: true, shape: {x1: x, y1: rulerY - half, x2: x, y2: rulerY + half},
        style: {stroke: '#000', lineWidth: 1.8}});
}
rulerLabels.forEach(v => {
    addText(String(v), rulerX0 + (v - rulerStart) * rulerStep, 238, txtFont('normal', 21, 'Liberation Sans'), '#000', 'center');
});

/* panel B charts */
const chart = echarts.init(document.getElementById('main'), null, {renderer: 'canvas'});

const seriesOrder = ['RiBi', 'RRB', 'RP', 'POL5'];
const leftData = {RiBi: leftRibi, RRB: leftRrb, RP: leftRp, POL5: leftPol5};
const rightData = {RiBi: rightRibi, RRB: rightRrb, RP: rightRp, POL5: rightPol5};
let series = [
    scatterSeries('rest', leftRest, 0),
    coreSeries(leftRestCore.concat(leftRestCore2), 0, 8, 0.38),
    scatterSeries('rest', rightRest, 1),
    coreSeries(rightRestCore.concat(rightRestCore2), 1, 7.5, 0.28)
];
seriesOrder.forEach(n => series.push(scatterSeries(n, leftData[n], 0)));
seriesOrder.forEach(n => series.push(scatterSeries(n, rightData[n], 1)));

const nameStyle = {fontSize: 16, color: '#222', fontFamily: 'Liberation Sans'};

const option = {
    animation: false,
    backgroundColor: '#fff',
    grid: [
        {left: 93, top: 307, width: 397, height: 333, show: true, borderColor: '#222', borderWidth: 1.3, backgroundColor: 'transparent'},
        {left: 628, top: 306, width: 400, height: 336, show: true, borderColor: '#222', borderWidth: 1.3, backgroundColor: 'transparent'}
    ],
    xAxis: [
        Object.assign({type: 'value', gridIndex: 0, position: 'bottom', min: -0.1164, max: 0.0269, name: 'PC1', nameLocation: 'middle', nameGap: 64,
            nameTextStyle: nameStyle}, axisSet(xTicksLeft, xLabelsLeft, 0)),
        Object.assign({type: 'value', gridIndex: 1, position: 'bottom', min: -0.1018, max: 0.1068, name: 'PC1', nameLocation: 'middle', nameGap: 65,
            nameTextStyle: nameStyle}, axisSet(xTicksRight, xTicksRight, 0))
    ],
    yAxis: [
        Object.assign({type: 'value', gridIndex: 0, position: 'left', min: -0.1508, max: 0.0679, name: 'PC2', nameLocation: 'middle', nameGap: 38,
            nameTextStyle: nameStyle}, axisSet(yTicksLeft, yTicksLeft, 90)),
        Object.assign({type: 'value', gridIndex: 1, position: 'left', min: -0.1123, max: 0.1416, name: 'PC2', nameLocation: 'middle', nameGap: 67,
            nameTextStyle: nameStyle}, axisSet(yTicksRight, yTicksRight, 90))
    ],
    legend: [legendBox(93, 307), legendBox(628, 306)],
    series: series,
    graphic: {elements: graphics}
};
chart.setOption(option);
</script>
</body>
</html>
